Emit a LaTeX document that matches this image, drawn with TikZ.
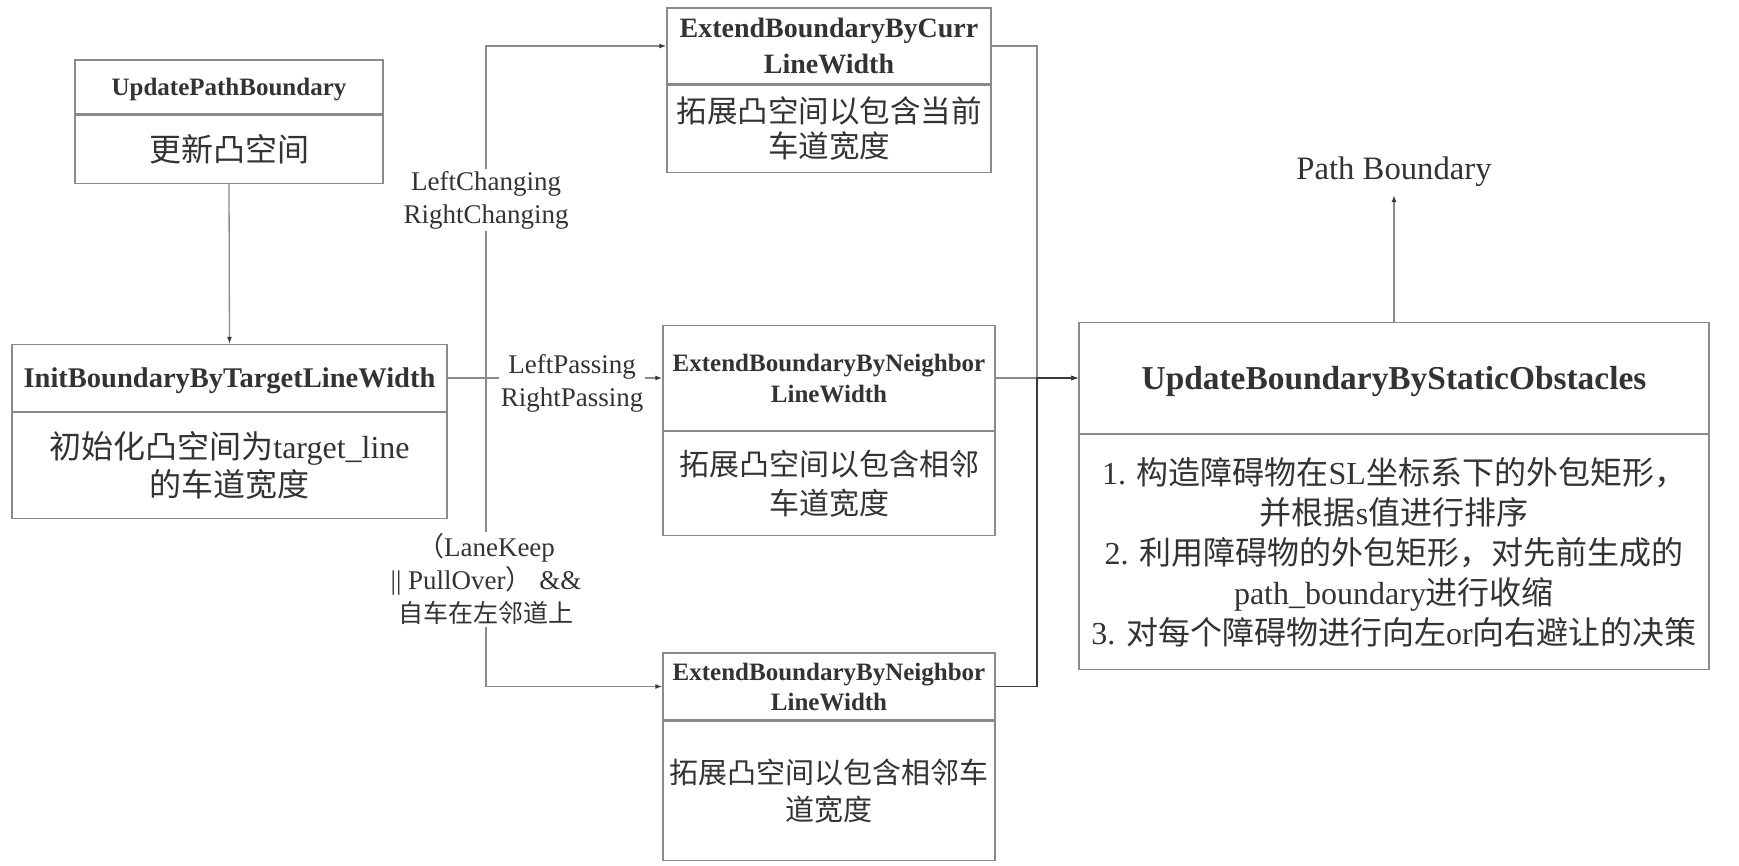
\documentclass[tikz,border=0pt]{standalone}
\usepackage{fontspec}
\setmainfont{Liberation Serif}
\newfontfamily\cjk{Noto Sans CJK SC}
\usetikzlibrary{positioning,arrows.meta}

\definecolor{linegray}{HTML}{8A8A8A}
\definecolor{darkline}{HTML}{3A3A3A}
\definecolor{txtgray}{HTML}{333333}

\tikzset{
  box/.style={draw=linegray, line width=1.3pt, align=center, inner sep=0pt, text=txtgray},
  head/.style={box, text depth=0pt},
  note/.style={box},
  conn/.style={draw=linegray, line width=1.3pt, -{Latex[length=7pt,width=5pt,color=darkline]}},
  lbl/.style={fill=white, text=txtgray, align=center, inner sep=2pt, font=\fontsize{27}{33}\selectfont},
}

\begin{document}
\begin{tikzpicture}[x=1pt, y=-1pt]
	\useasboundingbox (0,0) rectangle (1739,866);
	
	% 更新凸空间
	\node[head, minimum width=308pt, minimum height=54pt, font=\bfseries\fontsize{25}{31}\selectfont] (upd) at (229,87) {UpdatePathBoundary};
	\node[note, minimum width=308pt, minimum height=68pt, below=0pt of upd, font=\fontsize{32}{38}\selectfont] (updnote) {{\cjk 更新凸空间}};
	
	% 初始化凸空间
	\node[head, minimum width=435pt, minimum height=67pt, font=\bfseries\fontsize{28.5}{34}\selectfont] (init) at (229.5,378) {InitBoundaryByTargetLineWidth};
	\node[note, minimum width=435pt, minimum height=106pt, below=0pt of init, font=\fontsize{32}{38}\selectfont] (initnote) {{\cjk 初始化凸空间为}target\_line\\{\cjk 的车道宽度}};
	
	% 三个拓展分支
	\node[head, minimum width=324pt, minimum height=76pt, font=\bfseries\fontsize{28}{36}\selectfont] (curr) at (829,46) {ExtendBoundaryByCurr\\LineWidth};
	\node[note, minimum width=324pt, minimum height=87pt, below=0pt of curr, font=\fontsize{30.5}{35}\selectfont] (currnote) {{\cjk 拓展凸空间以包含当前}\\{\cjk 车道宽度}};
	
	\node[head, minimum width=332pt, minimum height=105pt, font=\bfseries\fontsize{25}{31}\selectfont] (nbpass) at (829,378) {ExtendBoundaryByNeighbor\\LineWidth};
	\node[note, minimum width=332pt, minimum height=104pt, below=0pt of nbpass, font=\fontsize{30}{39}\selectfont] (nbpassnote) {{\cjk 拓展凸空间以包含相邻}\\{\cjk 车道宽度}};
	
	\node[head, minimum width=332pt, minimum height=67pt, font=\bfseries\fontsize{25}{30}\selectfont] (nbkeep) at (829,686.5) {ExtendBoundaryByNeighbor\\LineWidth};
	\node[note, minimum width=332pt, minimum height=139pt, below=0pt of nbkeep, font=\fontsize{29}{37}\selectfont] (nbkeepnote) {{\cjk 拓展凸空间以包含相邻车}\\{\cjk 道宽度}};
	
	% 静态障碍物
	\node[head, minimum width=630pt, minimum height=111pt, font=\bfseries\fontsize{33.4}{40}\selectfont] (obs) at (1394,378) {UpdateBoundaryByStaticObstacles};
	\node[note, minimum width=630pt, minimum height=235pt, below=0pt of obs, font=\fontsize{32}{40}\selectfont] (obsnote) {1. {\cjk 构造障碍物在}SL{\cjk 坐标系下的外包矩形，}\\{\cjk 并根据}s{\cjk 值进行排序}\\2. {\cjk 利用障碍物的外包矩形，对先前生成的}\\path\_boundary{\cjk 进行收缩}\\3. {\cjk 对每个障碍物进行向左}or{\cjk 向右避让的决策}};
	
	\node[text=txtgray, inner sep=8pt, font=\fontsize{32.7}{38}\selectfont] (pb) at (1394,172) {Path Boundary};
	
	% 连线
	\coordinate (jl) at (486,378);
	\coordinate (jr) at (1037,378);
	\draw[conn] (updnote.south) -- (init.north);
	\draw[conn] (init.east) -- (jl) |- node[lbl, pos=0.268] {LeftChanging\\RightChanging} (curr.west);
	\draw[conn] (init.east) -- node[lbl, pos=0.58, yshift=-5pt] {LeftPassing\\RightPassing} (nbpass.west);
	\draw[conn] (init.east) -- (jl) |- node[lbl, pos=0.326] {{\cjk （}LaneKeep\\|| PullOver{\cjk ）} \&\&\\{\cjk\fontsize{25}{31}\selectfont 自车在左邻道上}} (nbkeep.west);
	\draw[conn] (curr.east) -| (jr) -- (obs.west);
	\draw[conn] (nbpass.east) -- (obs.west);
	\draw[conn, draw=darkline] (nbkeep.east) -| (jr) -- (obs.west);
	\draw[conn] (obs.north) -- (pb.south);
	
\end{tikzpicture}
\end{document}
